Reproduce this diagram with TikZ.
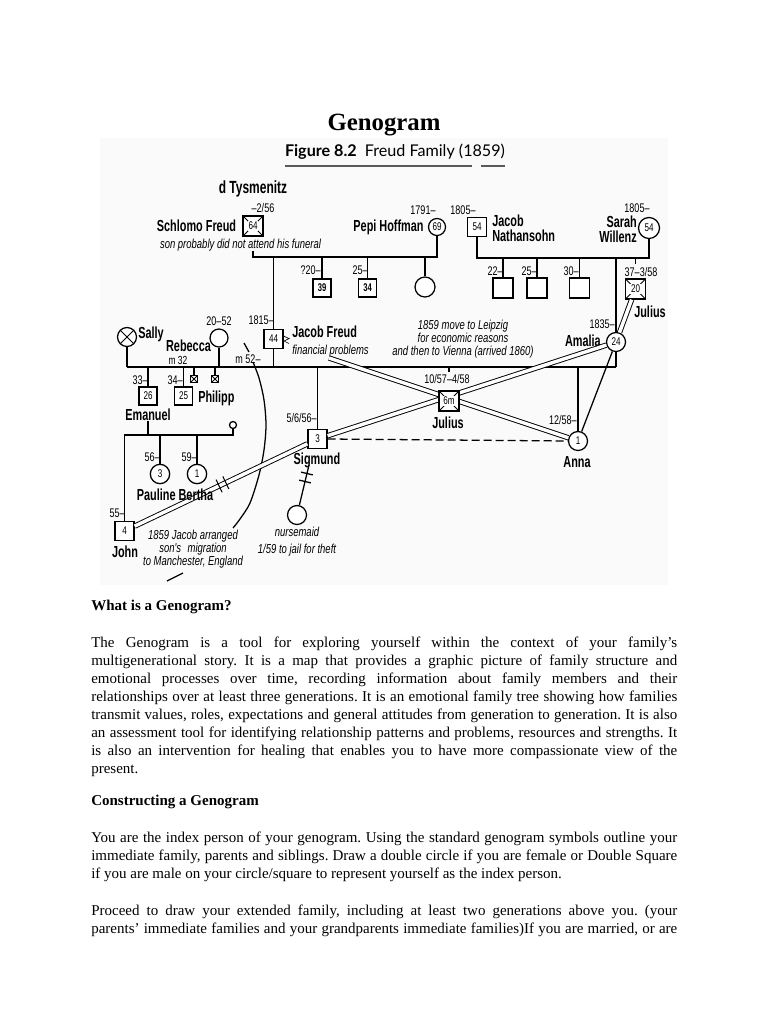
\documentclass[tikz,border=0pt]{standalone}
\usepackage{fontspec}
\setmainfont{Liberation Serif}
\newfontfamily\capfont{Lato}
\newfontfamily\gnbold[FakeStretch=0.68]{Liberation Sans}
\newfontfamily\gnreg[FakeStretch=0.72]{Liberation Sans}
\newfontfamily\gnital[FakeStretch=0.73]{Liberation Sans}
\usetikzlibrary{calc}
\frenchspacing
\newcommand{\wbx}[1]{{\setlength{\fboxsep}{0.5pt}\colorbox{white}{#1}}}
\tikzset{
  nm/.style={font=\gnbold\bfseries\fontsize{12}{13}\selectfont, inner sep=0pt, text depth=0pt},
  lab/.style={font=\gnreg\fontsize{9.4}{10}\selectfont, inner sep=0pt, text depth=0pt},
  note/.style={font=\gnital\itshape\fontsize{9.75}{10.3}\selectfont, inner sep=0pt, align=center},
  symb/.style={draw, fill=white, line width=0.95pt, inner sep=0pt, font=\gnreg\fontsize{8.4}{9}\selectfont},
  male/.style={symb, rectangle, minimum size=14.25pt},
  female/.style={symb, circle, minimum size=14.25pt},
  dead/.style={path picture={\draw[line width=0.6pt] (path picture bounding box.north west) -- (path picture bounding box.south east) (path picture bounding box.north east) -- (path picture bounding box.south west);}},
  halfblack/.style={path picture={\fill (path picture bounding box.south west) rectangle ($(path picture bounding box.north west)!0.33!(path picture bounding box.north east)$);}},
  rel/.style={line width=0.95pt},
  closerel/.style={double, double distance=2.6pt, line width=0.7pt},
  body/.style={font=\fontsize{11.25}{13.5}\selectfont, inner sep=0pt, anchor=base west},
}
\begin{document}
\begin{tikzpicture}[x=0.75pt,y=-0.75pt]
\useasboundingbox (0,0) rectangle (768,1024);
\fill[white] (0,0) rectangle (768,1024);
\fill[black!2] (100,138) rectangle (668,585);

% ---------- titles
\node[font=\bfseries\fontsize{18.6}{22}\selectfont, inner sep=0pt] (title) at (384,125) {Genogram};
\node[inner sep=0pt] (cap) at (395,152) {\resizebox{165pt}{!}{\capfont\textbf{Figure 8.2}\enspace Freud Family (1859)}};
\draw[black!65, line width=1pt] (285,166) -- (472,166) (481,166) -- (505,166);

% ---------- coordinates of couple lines
\coordinate (cl1) at (0,257);
\coordinate (cl2) at (0,258);
\coordinate (cl3) at (0,367);
\coordinate (cl4) at (0,435);

% ---------- generation 1
\node[nm, font=\gnbold\bfseries\fontsize{13.2}{14}\selectfont] (tys) at (253,187) {d Tysmenitz};
\node[lab] (sfdate) at (263,208) {–2/56};
\node[male, dead, minimum size=15pt] (schlomo) at (253,226) {\wbx{64}};
\node[nm] (schlomoN) at (196.5,226) {Schlomo Freud};
\node[note] (funeral) at (240.5,245) {son probably did not attend his funeral};

\node[female, minimum size=12.75pt] (pepi) at (437,227) {69};
\node[nm] (pepiN) at (388.5,226) {Pepi Hoffman};
\node[lab] (pepiD) at (423,210) {1791–};

\node[male] (jn) at (477,227) {54};
\node[lab] (jnD) at (463,210) {1805–};
\node[nm, anchor=west] (jnN1) at (492,221) {Jacob};
\node[nm, anchor=west] (jnN2) at (492,236) {Nathansohn};

\node[female, minimum size=15.75pt] (sarah) at (649,228) {54};
\node[lab] (sarahD) at (637,208) {1805–};
\node[nm, anchor=east] (sarahN1) at (637,222) {Sarah};
\node[nm, anchor=east] (sarahN2) at (637,237) {Willenz};

% ---------- generation 2
\node[male] (jacob) at (273.5,339) {44};
\node[lab, anchor=east] (jacobD) at (274,320) {1815–};
\node[nm, anchor=west] (jacobN) at (292,332) {Jacob Freud};
\node[note, anchor=west] (fin) at (292,351) {financial problems};

\node[male, minimum size=13.5pt, font=\gnbold\bfseries\fontsize{8.4}{9}\selectfont] (s39) at (322,288) {39};
\node[lab, anchor=east] (s39D) at (321,270) {?20–};
\node[male, halfblack, minimum size=13.5pt, font=\gnbold\bfseries\fontsize{8.4}{9}\selectfont] (s34) at (367.5,288) {34};
\node[lab, anchor=east] (s34D) at (368,270) {25–};
\node[female, minimum size=15pt] (pd) at (425,287) {};

\node[male, minimum size=15pt] (n22) at (503,288) {};
\node[lab, anchor=east] (n22D) at (503,271) {22–};
\node[male, minimum size=15pt] (n25) at (537,288) {};
\node[lab, anchor=east] (n25D) at (537,271) {25–};
\node[male, minimum size=15pt] (n30) at (579.5,288) {};
\node[lab, anchor=east] (n30D) at (579,271) {30–};
\node[male, dead, minimum size=15pt] (jul20) at (635.5,289) {\wbx{20}};
\node[lab] (jul20D) at (641,272) {37–3/58};
\node[nm] (jul20N) at (650,312) {Julius};

\node[female] (amalia) at (616,342) {24};
\node[lab, anchor=east] (amaliaD) at (615,324) {1835–};
\node[nm, anchor=east] (amaliaN) at (601,341) {Amalia};

\node[female, dead] (sally) at (127,337) {};
\node[nm, anchor=west] (sallyN) at (138,333) {Sally};
\node[female, minimum size=13.5pt] (rebecca) at (219,338) {};
\node[lab] (rebD) at (219,321) {20–52};
\node[nm] (rebN) at (188.5,346) {Rebecca};
\node[lab, font=\gnreg\fontsize{8.8}{9}\selectfont] (m32) at (178,360) {m 32};
\node[lab] (m52) at (248,359) {m 52–};

% ---------- generation 3
\node[male, minimum size=13.5pt] (eman) at (148,396) {26};
\node[lab, anchor=east] (emanD) at (148,380) {33–};
\node[nm] (emanN) at (148,415) {Emanuel};
\node[male, minimum size=13.5pt] (phil) at (183.5,396) {25};
\node[lab, anchor=east] (philD) at (183,380) {34–};
\node[nm, anchor=west] (philN) at (198,397) {Philipp};
\node[male, dead, minimum size=5.25pt] (mb1) at (194,379) {};
\node[male, dead, minimum size=5.25pt] (mb2) at (215,379) {};

\node[male] (sig) at (317.5,439) {3};
\node[lab, anchor=east] (sigD) at (317,418) {5/6/56–};
\node[nm] (sigN) at (317,459) {Sigmund};

\node[female] (anna) at (578,441) {1};
\node[lab, anchor=east] (annaD) at (577,420) {12/58–};
\node[nm] (annaN) at (577,462) {Anna};

\node[note] (move) at (463,339) {1859 move to Leipzig\\[-0.6pt]for economic reasons\\[-0.6pt]and then to Vienna (arrived 1860)};

% ---------- generation 4
\node[female, minimum size=5.25pt] (ewife) at (233,425) {};
\node[male] (john) at (124.5,531) {4};
\node[lab, anchor=east] (johnD) at (125,513) {55–};
\node[nm] (johnN) at (125,552) {John};
\node[female, minimum size=14.5pt] (pauline) at (160,474) {3};
\node[lab, anchor=east] (paulD) at (160,457) {56–};
\node[female, minimum size=14.5pt] (bertha) at (197,474) {1};
\node[lab, anchor=east] (berD) at (197,457) {59–};

\node[female] (nurse) at (297,515) {};
\coordinate (nTop) at (309,465);
\node[note] (nurseN) at (297,532) {nursemaid};
\node[note] (jail) at (297,550) {1/59 to jail for theft};
\node[note] (manch) at (193,549) {1859 Jacob arranged\\[-0.4pt]son's\enspace migration\\[-0.4pt]to Manchester, England};

% ---------- family lines
\begin{scope}[rel]
\draw (schlomo |- funeral.south) -- (schlomo |- cl1) -- (pepi |- cl1) -- (pepi.south);
\draw (jacob.north) -- (jacob |- cl1);
\draw (s39.north) -- (s39 |- cl1);
\draw (s34.north) -- (s34 |- cl1);
\draw (pd.north) -- (pd |- cl1);

\draw (jn.south) -- (jn |- cl2) -- (sarah |- cl2) -- (sarah.south);
\draw (n22.north) -- (n22 |- cl2);
\draw (n25.north) -- (n25 |- cl2);
\draw (n30.north) -- (n30 |- cl2);
\draw (jul20 |- cl2) -- ++(0,6);
\draw (amalia.north) -- (amalia |- cl2);

\draw (sally |- cl3) -- (amalia |- cl3);
\draw (amalia.south) -- (amalia |- cl3);
\draw (jacob.south) -- (jacob |- cl3);
\draw (sally.south) -- (sally |- cl3);
\draw (rebecca.south) -- (rebecca |- cl3);
\draw (eman.north) -- (eman |- cl3);
\draw (phil.north) -- (phil |- cl3);
\draw (mb1.north) -- (mb1 |- cl3);
\draw (mb2.north) -- (mb2 |- cl3);
\draw (sig.north) -- (sig |- cl3);
\draw (anna.north) -- (anna |- cl3);

\draw (emanN.south) -- (emanN |- cl4);
\draw (john.north) -- (john |- cl4) -- (ewife |- cl4) -- (ewife.south);
\draw (pauline.north) -- (pauline |- cl4);
\draw (bertha.north) -- (bertha |- cl4);

% nursemaid with cut-off marks
\draw (nTop) -- (nurse);
\draw ($(nTop)!0.17!(nurse)!4.5pt!90:(nurse)$) -- ($(nTop)!0.17!(nurse)!4.5pt!-90:(nurse)$);
\draw ($(nTop)!0.33!(nurse)!4.5pt!90:(nurse)$) -- ($(nTop)!0.33!(nurse)!4.5pt!-90:(nurse)$);

% Jacob's stress mark
\draw[line width=0.5pt] (283.5,336) -- (289,338.5) -- (284,341) -- (289,343.5);

% migration arc
\draw (244,343) -- (249,352);
\draw plot[smooth] coordinates {(253,362) (259,378) (264,400) (266,425) (264,450) (259,475) (250,503) (240,519) (233,528)};
\draw (167,581) -- (183,573);
\end{scope}

% ---------- relationship lines
\coordinate (jfA) at (329,358);
\draw[closerel] (jfA) -- (anna);
\draw[closerel] (sig) -- (amalia);
\draw[closerel] (amalia) -- (jul20);
\draw[closerel] (john) -- (sig);
\draw[line width=0.75pt] ($(john)!0.49!(sig)!5.25pt!90:(sig)$) -- ($(john)!0.49!(sig)!5.25pt!-90:(sig)$);
\draw[line width=0.75pt] ($(john)!0.525!(sig)!5.25pt!90:(sig)$) -- ($(john)!0.525!(sig)!5.25pt!-90:(sig)$);
\draw[rel] (anna) -- (amalia);
\draw[rel, dash pattern=on 6pt off 3pt] (sig.east) -- (anna.west);

% text drawn over the John-Sigmund line
\node[nm] (pbN) at (175,495) {Pauline Bertha};

% Julius (6 months) on top of the crossing
\node[male, dead, minimum size=15pt] (j6) at (449,401) {\wbx{6m}};
\draw[rel] (j6 |- cl3) -- ++(0,5);
\node[lab] (j6D) at (447,379) {10/57–4/58};
\node[nm] (j6N) at (448,423) {Julius};

% ---------- body text
\node[body, font=\bfseries\fontsize{11.25}{13.5}\selectfont] (h1) at (91,610) {What is a Genogram?};
\node[body] (p1a) at (91,647) {\hbox to 439.5pt{The Genogram is a tool for exploring yourself within the context of your family’s}};
\node[body] (p1b) at (91,665) {\hbox to 439.5pt{multigenerational story. It is a map that provides a graphic picture of family structure and}};
\node[body] (p1c) at (91,683) {\hbox to 439.5pt{emotional processes over time, recording information about family members and their}};
\node[body] (p1d) at (91,701) {\hbox to 439.5pt{relationships over at least three generations. It is an emotional family tree showing how families}};
\node[body] (p1e) at (91,719) {\hbox to 439.5pt{transmit values, roles, expectations and general attitudes from generation to generation. It is also}};
\node[body] (p1f) at (91,737) {\hbox to 439.5pt{an assessment tool for identifying relationship patterns and problems, resources and strengths. It}};
\node[body] (p1g) at (91,755) {\hbox to 439.5pt{is also an intervention for healing that enables you to have more compassionate view of the}};
\node[body] (p1h) at (91,773) {present.};

\node[body, font=\bfseries\fontsize{11.25}{13.5}\selectfont] (h2) at (91,805) {Constructing a Genogram};
\node[body] (p2a) at (91,842) {\hbox to 439.5pt{You are the index person of your genogram. Using the standard genogram symbols outline your}};
\node[body] (p2b) at (91,860) {\hbox to 439.5pt{immediate family, parents and siblings. Draw a double circle if you are female or Double Square}};
\node[body] (p2c) at (91,878) {if you are male on your circle/square to represent yourself as the index person.};

\node[body] (p3a) at (91,915) {\hbox to 439.5pt{Proceed to draw your extended family, including at least two generations above you. (your}};
\node[body] (p3b) at (91,933) {\hbox to 439.5pt{parents’ immediate families and your grandparents immediate families)If you are married, or are}};
\end{tikzpicture}
\end{document}
